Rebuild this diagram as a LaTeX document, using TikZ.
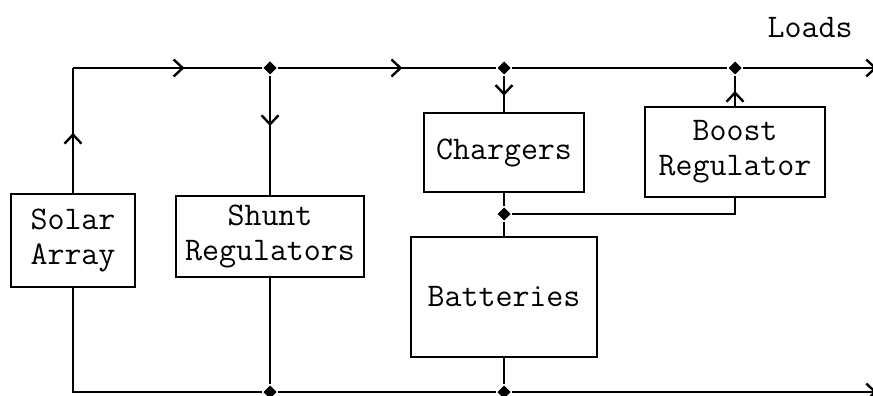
\documentclass[tikz,border=0pt]{standalone}
\usetikzlibrary{arrows.meta,decorations.markings,shapes.geometric}
\begin{document}
\begin{tikzpicture}[x=1pt, y=-1pt, line width=2.4pt, line join=miter,
    font=\ttfamily\fontsize{33}{35}\selectfont]
  \tikzset{
    >={Straight Barb[length=9pt,width=17pt]},
    block/.style={draw, align=center, inner sep=0pt},
    junction/.style={diamond, fill, inner sep=0pt, minimum size=14pt},
    flow/.style={postaction={decorate},
      decoration={markings, mark=at position #1 with {\arrow{>}}}}
  }
  \useasboundingbox (0,0) rectangle (873,396);
  % Blocks of the power system.
  \node[block, minimum width=124pt, minimum height=93pt] (solar) at (73,240.5) {Solar\\Array};
  \node[block, minimum width=188pt, minimum height=81pt] (shunt) at (270,236.5) {Shunt\\Regulators};
  \node[block, minimum width=160pt, minimum height=79pt] (chargers) at (504,152.5) {Chargers};
  \node[block, minimum width=180pt, minimum height=90pt] (boost) at (735,152) {Boost\\Regulator};
  \node[block, minimum width=186pt, minimum height=120pt] (batt) at (504,297) {Batteries};
  \node (loads) at (810,28) {Loads};
  % Junctions on the two buses.
  \node[junction] (jtop1) at (270,68) {};
  \node[junction] (jtop2) at (504,68) {};
  \node[junction] (jtop3) at (735,68) {};
  \node[junction] (jmid) at (504,214) {};
  \node[junction] (jbot1) at (270,392) {};
  \node[junction] (jbot2) at (504,392) {};
  \coordinate (topleft) at (73,68);
  \coordinate (botleft) at (73,392);
  \coordinate (topend) at (877,68);
  \coordinate (botend) at (877,392);
  % Top bus.
  \draw[flow=0.48] (solar.north) -- (topleft);
  \draw[flow=0.59] (topleft) -- (jtop1);
  \draw[flow=0.57] (jtop1) -- (jtop2);
  \draw (jtop2) -- (jtop3);
  \draw[->] (jtop3) -- (topend);
  \draw[flow=0.42] (jtop1) -- (shunt.north);
  \draw[flow=0.55] (jtop2) -- (chargers.north);
  \draw[flow=0.5] (boost.north) -- (jtop3);
  % Battery branch.
  \draw (chargers.south) -- (jmid);
  \draw (jmid) -- (batt.north);
  \draw (boost.south) |- (jmid);
  % Return bus.
  \draw (solar.south) -- (botleft) -- (jbot1);
  \draw (jbot1) -- (jbot2);
  \draw[->] (jbot2) -- (botend);
  \draw (shunt.south) -- (jbot1);
  \draw (batt.south) -- (jbot2);
\end{tikzpicture}
\end{document}
